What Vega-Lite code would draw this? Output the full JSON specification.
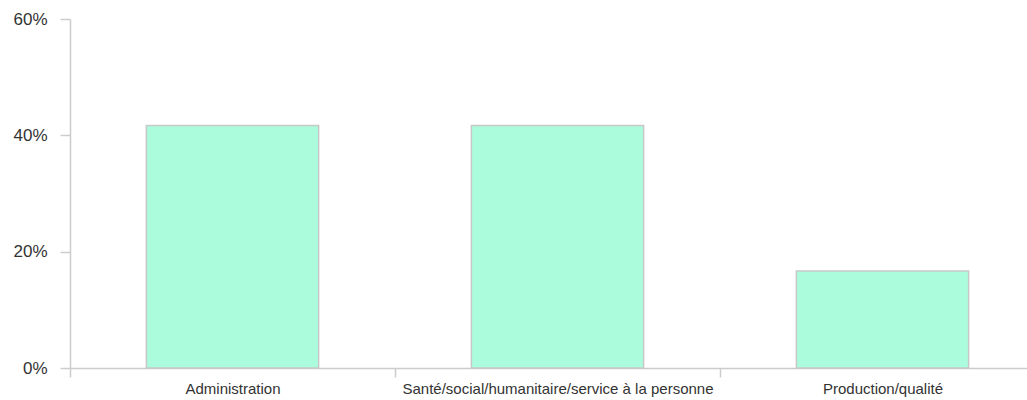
{
  "$schema": "https://vega.github.io/schema/vega-lite/v6.json",
  "autosize": "none",
  "padding": {"left": 70, "top": 19, "right": 0, "bottom": 32},
  "width": 957,
  "height": 349,
  "background": "white",
  "config": {"view": {"stroke": null}, "font": "Liberation Sans"},
  "data": {"values": [
    {"categorie": "Administration", "part": 0.4167},
    {"categorie": "Santé/social/humanitaire/service à la personne", "part": 0.4167},
    {"categorie": "Production/qualité", "part": 0.1667}
  ]},
  "mark": {"type": "bar", "width": {"band": 0.53}, "fill": "#abfcdc", "stroke": "#c8c8c8", "strokeWidth": 1.5},
  "encoding": {
    "x": {
      "field": "categorie", "type": "nominal", "sort": null,
      "scale": {"range": [0, 975], "paddingInner": 0, "paddingOuter": 0},
      "axis": {"title": null, "labelAngle": 0, "labelLimit": 0, "tickBand": "extent", "domainColor": "#cccccc", "tickColor": "#cccccc", "tickSize": 9, "labelFontSize": 15, "labelColor": "#333333", "labelPadding": 4, "grid": false, "domainWidth": 1.5, "tickWidth": 1.5}
    },
    "y": {
      "field": "part", "type": "quantitative",
      "scale": {"domain": [0, 0.6]},
      "axis": {"title": null, "format": ".0%", "values": [0, 0.2, 0.4, 0.6], "grid": false, "domainColor": "#cccccc", "tickColor": "#cccccc", "tickSize": 10, "labelFontSize": 17, "labelColor": "#333333", "labelPadding": 13, "domainWidth": 1.5, "tickWidth": 1.5}
    }
  }
}
